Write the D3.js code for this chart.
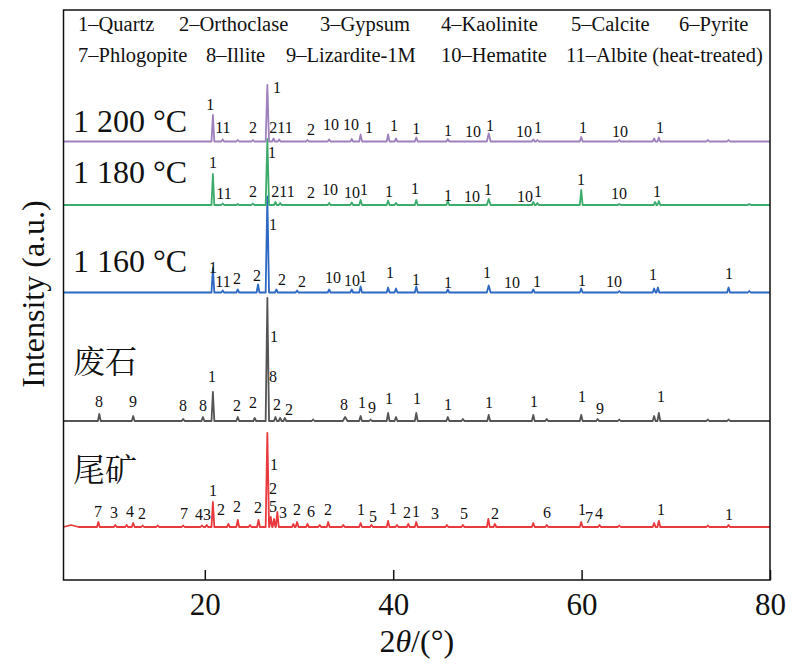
<!DOCTYPE html>
<html><head><meta charset="utf-8">
<script src="https://cdn.jsdelivr.net/npm/d3@7"></script>
<style>body{margin:0;background:#fff} svg{display:block} text{font-family:"Liberation Serif","Times New Roman","DejaVu Serif",serif}</style>
</head><body>
<svg id="chart" width="809" height="669"></svg>
<script>
// ---------------- data ----------------
const xTicks = [20, 40, 60, 80];
const legendRow1 = ["1–Quartz", "2–Orthoclase", "3–Gypsum", "4–Kaolinite", "5–Calcite", "6–Pyrite"];
const legendRow2 = ["7–Phlogopite", "8–Illite", "9–Lizardite-1M", "10–Hematite", "11–Albite (heat-treated)"];
const sampleNames = ["1 200 °C", "1 180 °C", "1 160 °C", "废石", "尾矿"];
const sampleOffsets = [438.5, 375, 287.5, 159, 53];      // baseline of each stacked pattern (a.u.)
const sampleNameLevels = [9.5, 22, 20.5, 48, 46];          // name height above its baseline (a.u.)

// peaks: [2θ, intensity above baseline (a.u.), optional half width]
const peaks1200 = [[20.86,26.5],[21.9,2],[23.5,1.5],[25.1,1.5],[26.64,56.5,0.18],[27.3,3],[27.9,2],[30.9,1.5],[33.2,2],[35.6,2.5],[36.54,7],[39.46,7],[40.3,3],[42.45,4],[45.8,2.5],[50.14,8,0.2],[54.87,2],[55.3,1.5],[59.96,4.5],[64.0,1.5],[67.7,3],[68.2,4],[73.4,1.5],[75.6,1.5]];
const peaks1180 = [[20.86,31],[21.9,1.5],[23.5,1],[25.1,1.5],[26.64,66,0.18],[27.5,3],[28.0,2],[33.2,2],[35.6,2.5],[36.54,5],[39.46,4.5],[40.3,2],[42.45,5],[45.8,4],[50.14,6,0.2],[54.87,3],[55.3,2],[59.96,15],[64.0,1],[67.8,3],[68.2,4],[77.8,1]];
const peaks1160 = [[20.86,24.5],[21.9,2],[23.5,3],[25.65,8],[26.64,96,0.18],[27.6,3],[29.8,2],[33.2,3],[35.6,3],[36.54,6],[39.46,5],[40.3,4],[42.45,6],[45.8,3],[50.14,7,0.2],[54.87,3],[59.96,4],[64.0,1.5],[67.7,4],[68.1,5],[75.6,5],[77.8,1.5]];
const peaksWaste = [[8.8,7],[12.4,5],[17.7,2],[19.8,4],[20.86,29],[23.5,4],[25.3,3],[26.64,123,0.18],[27.5,4],[28.0,3],[28.5,3],[31.5,1.5],[34.9,4,0.25],[36.54,5],[37.6,1.5],[39.46,8],[40.3,4],[42.45,8],[45.8,4],[47.4,2],[50.14,6],[54.87,6],[56.3,2],[59.96,6],[61.7,2],[64.0,1.5],[67.7,5],[68.2,8],[73.4,1.5],[75.6,1.5]];
const peaksTailings = [[5.8,2,0.8],[8.7,5],[10.5,2],[11.7,2],[12.4,4],[13.4,1.5],[15.0,1.5],[17.7,1.5],[19.7,1.5],[20.2,2],[20.86,25],[22.5,3],[23.5,7],[24.8,2],[25.7,7],[26.64,94,0.18],[27.0,10],[27.35,8],[27.7,15],[29.4,3],[29.8,5],[30.9,3],[32.2,2],[33.1,5],[34.7,2],[36.54,4],[37.7,2],[39.46,6],[40.4,2],[41.6,3],[42.45,5],[45.7,2],[47.4,2],[50.1,8],[50.8,3],[54.87,4],[56.3,2],[59.96,5],[61.9,2],[64.0,1.5],[67.7,4],[68.2,6],[73.4,1.5],[75.6,2]];

// phase labels: [2θ, text, height above baseline (a.u.)]
const labels1200 = [[20.57,"1",31.5],[21.92,"11",8.5],[25.12,"2",8.5],[27.66,"1",48.5],[28.09,"211",8.5],[31.27,"2",6.5],[33.4,"10",11.5],[35.52,"10",11.5],[37.43,"1",8.5],[40.08,"1",10.5],[42.45,"1",7.5],[45.82,"1",5.5],[48.47,"10",4.5],[50.27,"1",10.5],[53.88,"10",4.5],[55.37,"1",8.5],[60.15,"1",8.5],[64.08,"10",4.5],[68.33,"1",8.5]];
const labels1180 = [[20.87,"1",37],[22.04,"11",6],[25.12,"2",8],[27.13,"1",47],[28.3,"211",8],[31.27,"2",7],[33.29,"10",10],[35.62,"10",7],[36.9,"1",10],[39.56,"1",8],[42.32,"1",11],[45.82,"1",4],[48.37,"10",3],[50.06,"1",10],[53.99,"10",3],[55.37,"1",8],[59.94,"1",20],[63.97,"10",6],[68.0,"1",8]];
const labels1160 = [[20.86,"1",19.5],[21.93,"11",5.5],[23.42,"2",8.5],[25.54,"2",11.5],[27.24,"1",62.5],[28.2,"2",7.5],[30.32,"2",5.5],[33.61,"10",9.5],[35.62,"10",6.5],[36.79,"1",10.5],[39.66,"1",14.5],[42.43,"1",7.5],[45.82,"1",4.5],[49.96,"1",14.5],[52.61,"10",4.5],[55.27,"1",5.5],[60.04,"1",6.5],[63.44,"10",5.5],[67.58,"1",12.5],[75.65,"1",13.5]];
const labelsWaste = [[8.77,"8",14],[12.38,"9",14],[17.69,"8",10],[19.81,"8",10],[20.76,"1",39],[23.42,"2",10],[25.12,"2",13],[27.35,"1",79],[27.24,"8",39],[27.66,"2",11],[28.94,"2",6],[34.78,"8",11],[36.69,"1",13],[37.75,"9",8],[39.56,"1",17],[42.53,"1",17],[45.82,"1",11],[50.17,"1",13],[54.95,"1",14],[60.04,"1",19],[61.95,"9",7],[68.44,"1",19]];
const labelsTailings = [[8.66,"7",10],[10.36,"3",9],[12.06,"4",10],[13.33,"2",8],[17.79,"7",8],[19.81,"43",7],[20.87,"1",31],[21.72,"2",12],[23.42,"2",15],[25.65,"2",14],[27.35,"1",57],[27.24,"2",33],[27.24,"5",15],[28.3,"3",9],[29.79,"2",12],[31.27,"6",10],[33.08,"2",12],[36.58,"1",12],[37.85,"5",5],[39.98,"1",13],[41.47,"2",9],[42.43,"1",10],[44.45,"3",8],[47.52,"5",8],[50.81,"2",8],[56.33,"6",9],[60.04,"1",12],[60.78,"7",4],[61.85,"4",8],[68.44,"1",12],[75.65,"1",7]];

const samplePeaks = [peaks1200, peaks1180, peaks1160, peaksWaste, peaksTailings];
const sampleLabels = [labels1200, labels1180, labels1160, labelsWaste, labelsTailings];
const sampleColors = ["#9d80bd", "#3dab6c", "#2d68c2", "#555555", "#e8393d"];

// ---------------- drawing ----------------
const svg = d3.select("#chart");
const L = 63.5, R = 770, T = 10, B = 580;
const x = d3.scaleLinear().domain([5, 80]).range([L, R]);
const y = d3.scaleLinear().domain([0, 570]).range([B, T]);

svg.append("clipPath").attr("id", "clip").append("rect")
  .attr("x", L).attr("y", T).attr("width", R - L).attr("height", B - T);

const line = d3.line().x(d => x(d[0])).y(d => y(d[1]));

const order = [4, 3, 2, 1, 0];
order.forEach(i => {
  const off = sampleOffsets[i];
  const pk = samplePeaks[i].slice().sort((a, b) => a[0] - b[0]);
  const pts = [[5, off]];
  pk.forEach(p => {
    const w = p[2] || 0.15;
    pts.push([p[0] - w, off], [p[0], off + p[1]], [p[0] + w, off]);
  });
  pts.push([80, off]);
  svg.append("path").attr("clip-path", "url(#clip)")
    .attr("d", line(pts)).attr("fill", "none")
    .attr("stroke", sampleColors[i]).attr("stroke-width", 1.8)
    .attr("stroke-linejoin", "round");
});

sampleLabels.forEach((labs, i) => {
  const off = sampleOffsets[i];
  svg.append("g").selectAll("text").data(labs).join("text")
    .attr("x", d => x(d[0])).attr("y", d => y(off + d[2]))
    .attr("text-anchor", "middle")
    .style("font-size", "16px").attr("fill", "#111")
    .text(d => d[1]);
});

sampleNames.forEach((n, i) => {
  svg.append("text")
    .attr("x", x(6.0)).attr("y", y(sampleOffsets[i] + sampleNameLevels[i]))
    .style("font-family", "\"Liberation Serif\", \"Noto Serif CJK SC\", \"Noto Sans CJK SC\", serif")
    .style("font-size", "32px").attr("fill", "#111").text(n);
});

// legend text
const row1X = [78, 179, 320, 441, 571, 679];
const row2X = [78, 206, 286, 441, 566];
legendRow1.forEach((t, i) => svg.append("text").attr("x", row1X[i]).attr("y", 31)
  .style("font-size", "20.5px").attr("fill", "#111").text(t));
legendRow2.forEach((t, i) => svg.append("text").attr("x", row2X[i]).attr("y", 62)
  .style("font-size", "20.5px").attr("fill", "#111").text(t));

// axis
const ax = svg.append("g").attr("transform", `translate(0,${B})`)
  .call(d3.axisBottom(x).tickValues(xTicks).tickSizeInner(-10).tickSizeOuter(0).tickPadding(13));
ax.attr("font-family", null).attr("font-size", null);
ax.select(".domain").remove();
ax.selectAll(".tick line").attr("stroke", "#111").attr("stroke-width", 1.5);
ax.selectAll(".tick text").style("font-size", "31px").attr("fill", "#111");

// frame
svg.append("rect").attr("x", L).attr("y", T).attr("width", R - L).attr("height", B - T)
  .attr("fill", "none").attr("stroke", "#111").attr("stroke-width", 1.5);

// axis titles
const xt = svg.append("text").attr("x", (L + R) / 2).attr("y", 652).attr("text-anchor", "middle")
  .style("font-size", "32px").attr("fill", "#111");
xt.append("tspan").text("2");
xt.append("tspan").attr("font-style", "italic").text("θ");
xt.append("tspan").text("/(°)");

svg.append("text").attr("transform", "translate(44,294) rotate(-90)").attr("text-anchor", "middle")
  .style("font-size", "32px").attr("fill", "#111").text("Intensity (a.u.)");
</script>
</body></html>
